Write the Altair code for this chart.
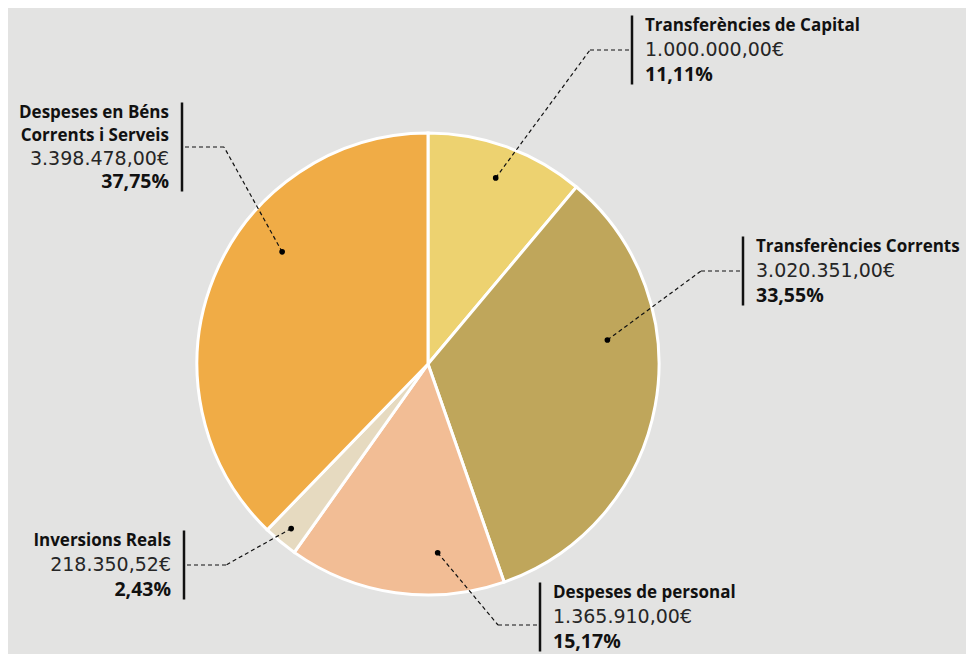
import math
import altair as alt
import pandas as pd

# ---------------- data ----------------
categories = [
    "Transferències de Capital",
    "Transferències Corrents",
    "Despeses de personal",
    "Inversions Reals",
    "Despeses en Béns Corrents i Serveis",
]
amounts = [1000000.00, 3020351.00, 1365910.00, 218350.52, 3398478.00]
amount_labels = ["1.000.000,00€", "3.020.351,00€", "1.365.910,00€", "218.350,52€", "3.398.478,00€"]
pct_labels = ["11,11%", "33,55%", "15,17%", "2,43%", "37,75%"]
title_lines = [
    ["Transferències de Capital"],
    ["Transferències Corrents"],
    ["Despeses de personal"],
    ["Inversions Reals"],
    ["Despeses en Béns", "Corrents i Serveis"],
]

# ---------------- style / layout ----------------
colors = ["#EDD270", "#BFA65B", "#F2BD95", "#E6DAC0", "#F0AC46"]
W, H = 958, 646
OFF = 8  # page margin
CX, CY, R = 428, 364, 231  # pie centre / radius in page pixels
label_side = ["right", "right", "right", "left", "left"]
bar_x = [632, 743, 540, 184, 182]
bar_mid = [50, 271, 617, 565, 147]
dot_angle_shift = [0, -18, -11, 0, 15.5]
dot_radius = [198, 181, 189, 214, 184]
elbow_len = 42
text_gap = 13
FONT = "Open Sans"
VFONT = "DejaVu Sans"

total = sum(amounts)
pie_df = pd.DataFrame({"cat": categories, "amount": amounts, "idx": range(len(categories))})

dots, segs, bars, texts = [], [], [], []
cum = 0.0
for i, a in enumerate(amounts):
    start = cum / total * 360
    cum += a
    end = cum / total * 360
    ang = math.radians((start + end) / 2 + dot_angle_shift[i])
    dx = CX + dot_radius[i] * math.sin(ang)
    dy = CY - dot_radius[i] * math.cos(ang)
    dots.append({"x": dx, "y": dy})
    sgn = -1 if label_side[i] == "right" else 1
    ex = bar_x[i] + sgn * elbow_len
    ey = bar_mid[i] + (1 if i == 2 else 0) * 8
    segs.append({"x": dx, "y": dy, "x2": ex, "y2": ey})
    segs.append({"x": ex, "y": ey, "x2": bar_x[i], "y2": ey})
    lines = [(t, "title") for t in title_lines[i]] + [(amount_labels[i], "value"), (pct_labels[i], "pct")]
    n = len(lines)
    spacing = 24.5 if n == 3 else 23
    half = (n - 1) / 2 * spacing + 10
    bars.append({"x": bar_x[i], "y": bar_mid[i] - half, "y2": bar_mid[i] + half})
    tx = bar_x[i] - sgn * text_gap
    for k, (t, kind) in enumerate(lines):
        texts.append({
            "x": tx,
            "y": bar_mid[i] + (k - (n - 1) / 2) * spacing,
            "t": t,
            "kind": kind,
            "side": label_side[i],
        })

dots_df = pd.DataFrame(dots)
segs_df = pd.DataFrame(segs)
bars_df = pd.DataFrame(bars)
texts_df = pd.DataFrame(texts)

xs = alt.Scale(domain=[OFF, OFF + W], range=[0, W], nice=False, zero=False)
ys = alt.Scale(domain=[OFF, OFF + H], range=[0, H], nice=False, zero=False)
X = lambda f: alt.X(f, type="quantitative", scale=xs, axis=None)
Y = lambda f: alt.Y(f, type="quantitative", scale=ys, axis=None)

pie = alt.Chart(pie_df).mark_arc(outerRadius=R, stroke="white", strokeWidth=3).encode(
    theta=alt.Theta("amount:Q", stack=True),
    order=alt.Order("idx:Q"),
    color=alt.Color("cat:N", scale=alt.Scale(domain=categories, range=colors), legend=None),
    x=alt.value(CX - OFF),
    y=alt.value(CY - OFF),
)

leaders = alt.Chart(segs_df).mark_rule(color="#111", strokeWidth=1.2, strokeDash=[4, 3]).encode(
    x=X("x"), y=Y("y"), x2="x2", y2="y2"
)
dot_layer = alt.Chart(dots_df).mark_circle(color="#000", size=32, opacity=1).encode(x=X("x"), y=Y("y"))
bar_layer = alt.Chart(bars_df).mark_rule(color="#111", strokeWidth=2.5).encode(x=X("x"), y=Y("y"), y2="y2")

text_layers = []
for side, align in [("right", "left"), ("left", "right")]:
    for kind, font, weight, size, col in [
        ("title", FONT, "bold", 17, "#111"),
        ("value", VFONT, "normal", 19, "#262626"),
        ("pct", FONT, "bold", 19.5, "#111"),
    ]:
        text_layers.append(
            alt.Chart(texts_df)
            .transform_filter((alt.datum.side == side) & (alt.datum.kind == kind))
            .mark_text(align=align, baseline="middle", font=font, fontWeight=weight, fontSize=size, color=col)
            .encode(x=X("x"), y=Y("y"), text="t:N")
        )

chart = (
    alt.layer(pie, leaders, dot_layer, bar_layer, *text_layers)
    .properties(width=W, height=H, padding=0, autosize="none", background="#E3E3E2")
    .configure_view(stroke=None)
)

chart.save("out.html", embed_options={"renderer": "svg", "actions": False})
